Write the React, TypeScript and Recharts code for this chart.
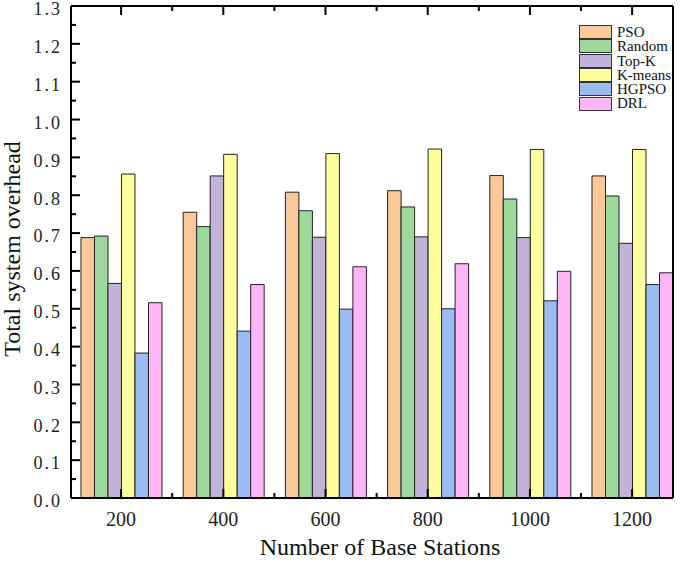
import { BarChart, Bar, XAxis, YAxis, Legend, Label } from "recharts";

const stations = ["200", "400", "600", "800", "1000", "1200"];

const pso = [0.688, 0.755, 0.808, 0.812, 0.852, 0.851];
const random = [0.692, 0.717, 0.759, 0.769, 0.79, 0.798];
const topK = [0.567, 0.851, 0.689, 0.69, 0.688, 0.673];
const kMeans = [0.856, 0.908, 0.91, 0.922, 0.921, 0.921];
const hgpso = [0.383, 0.441, 0.499, 0.5, 0.521, 0.564];
const drl = [0.516, 0.564, 0.611, 0.619, 0.599, 0.595];

const yTicks = [
  0, 0.05, 0.1, 0.15, 0.2, 0.25, 0.3, 0.35, 0.4, 0.45, 0.5, 0.55, 0.6, 0.65,
  0.7, 0.75, 0.8, 0.85, 0.9, 0.95, 1.0, 1.05, 1.1, 1.15, 1.2, 1.25, 1.3,
];
const xTicks = [0, 0.5, 1, 1.5, 2, 2.5, 3, 3.5, 4, 4.5, 5];

const series = [
  { key: "pso", name: "PSO", color: "#FBC899" },
  { key: "random", name: "Random", color: "#9FD89C" },
  { key: "topK", name: "Top-K", color: "#C3B3D9" },
  { key: "kMeans", name: "K-means", color: "#FFFF9E" },
  { key: "hgpso", name: "HGPSO", color: "#9BBCF2" },
  { key: "drl", name: "DRL", color: "#FFB6F7" },
];

const data = stations.map((s, i) => ({
  x: i,
  label: s,
  pso: pso[i],
  random: random[i],
  topK: topK[i],
  kMeans: kMeans[i],
  hgpso: hgpso[i],
  drl: drl[i],
}));

const FONT = '"Liberation Serif", "Times New Roman", serif';

const isMajorY = (v: number) => Math.round(v * 100) % 10 === 0;

const LeftTick = (props: any) => {
  const { x, y, payload } = props;
  const major = isMajorY(payload.value);
  return (
    <g>
      <line x1={x} x2={x + (major ? 9 : 5)} y1={y} y2={y} stroke="#000" strokeWidth={2} />
      {major && (
        <text
          x={x - 9}
          y={y + 3}
          dy="0.35em"
          textAnchor="end"
          fontFamily={FONT}
          fontSize={18}
          letterSpacing={2}
          fill="#222"
        >
          {payload.value.toFixed(1)}
        </text>
      )}
    </g>
  );
};

const RightTick = (props: any) => {
  const { x, y, payload } = props;
  const major = isMajorY(payload.value);
  return <line x1={x} x2={x - (major ? 9 : 5)} y1={y} y2={y} stroke="#000" strokeWidth={2} />;
};

const BottomTick = (props: any) => {
  const { x, y, payload } = props;
  const major = Number.isInteger(payload.value);
  return (
    <g>
      <line x1={x} x2={x} y1={y} y2={y - (major ? 9 : 5)} stroke="#000" strokeWidth={2} />
      {major && (
        <text x={x} y={y + 28} textAnchor="middle" fontFamily={FONT} fontSize={20} fill="#222">
          {stations[payload.value]}
        </text>
      )}
    </g>
  );
};

const TopTick = (props: any) => {
  const { x, y, payload } = props;
  const major = Number.isInteger(payload.value);
  return <line x1={x} x2={x} y1={y} y2={y + (major ? 9 : 5)} stroke="#000" strokeWidth={2} />;
};

const LegendBox = () => (
  <div style={{ fontFamily: FONT, fontSize: 15, lineHeight: "14.3px", color: "#111" }}>
    {series.map((s) => (
      <div key={s.key} style={{ display: "flex", alignItems: "center", height: 14.3 }}>
        <span
          style={{
            display: "inline-block",
            width: 31,
            height: 12,
            background: s.color,
            border: "1px solid #333",
            marginRight: 5,
          }}
        />
        <span>{s.name}</span>
      </div>
    ))}
  </div>
);

const App = () => {
  return (
    <div style={{ position: "absolute", left: 0, top: 0, background: "#fff" }}>
      <BarChart
        width={685}
        height={563}
        data={data}
        margin={{ top: 5, right: 11, bottom: 0, left: 0 }}
        barGap={0}
      >
        <XAxis
          xAxisId="bottom"
          dataKey="x"
          type="number"
          domain={[-0.49, 5.4]}
          ticks={xTicks}
          interval={0}
          tickSize={0}
          tickMargin={0}
          tick={<BottomTick />}
          stroke="#000"
          axisLine={{ stroke: "#000", strokeWidth: 2 }}
          height={65}
        >
          <Label
            content={(p: any) => {
              const vb = p.viewBox;
              return (
                <text
                  x={vb.x + vb.width / 2 + 8}
                  y={vb.y + 57}
                  textAnchor="middle"
                  fontFamily={FONT}
                  fontSize={24}
                  fill="#111"
                >
                  Number of Base Stations
                </text>
              );
            }}
          />
        </XAxis>
        <XAxis
          xAxisId="top"
          dataKey="x"
          type="number"
          orientation="top"
          domain={[-0.49, 5.4]}
          ticks={xTicks}
          interval={0}
          tickSize={0}
          tickMargin={0}
          tick={<TopTick />}
          stroke="#000"
          axisLine={{ stroke: "#000", strokeWidth: 2 }}
          height={1}
        />
        <YAxis
          yAxisId="left"
          domain={[0, 1.3]}
          ticks={yTicks}
          interval={0}
          tickSize={0}
          tickMargin={0}
          tick={<LeftTick />}
          stroke="#000"
          axisLine={{ stroke: "#000", strokeWidth: 2 }}
          width={71}
          allowDataOverflow
        >
          <Label
            content={(p: any) => {
              const vb = p.viewBox;
              const cx = vb.x + 20;
              const cy = vb.y + vb.height / 2 - 3;
              return (
                <text
                  x={cx}
                  y={cy}
                  transform={`rotate(-90 ${cx} ${cy})`}
                  textAnchor="middle"
                  fontFamily={FONT}
                  fontSize={24}
                  fill="#111"
                >
                  Total system overhead
                </text>
              );
            }}
          />
        </YAxis>
        <YAxis
          yAxisId="right"
          orientation="right"
          domain={[0, 1.3]}
          ticks={yTicks}
          interval={0}
          tickSize={0}
          tickMargin={0}
          tick={<RightTick />}
          stroke="#000"
          axisLine={{ stroke: "#000", strokeWidth: 2 }}
          width={1}
        />
        <Legend
          layout="vertical"
          verticalAlign="middle"
          align="center"
          content={<LegendBox />}
          wrapperStyle={{ top: 25, left: 579, width: 100 }}
        />
        {series.map((s) => (
          <Bar
            key={s.key}
            dataKey={s.key}
            name={s.name}
            fill={s.color}
            stroke="#222"
            strokeWidth={1}
            xAxisId="bottom"
            yAxisId="left"
            barSize={13.5}
            isAnimationActive={false}
          />
        ))}
      </BarChart>
    </div>
  );
};

export default App;
